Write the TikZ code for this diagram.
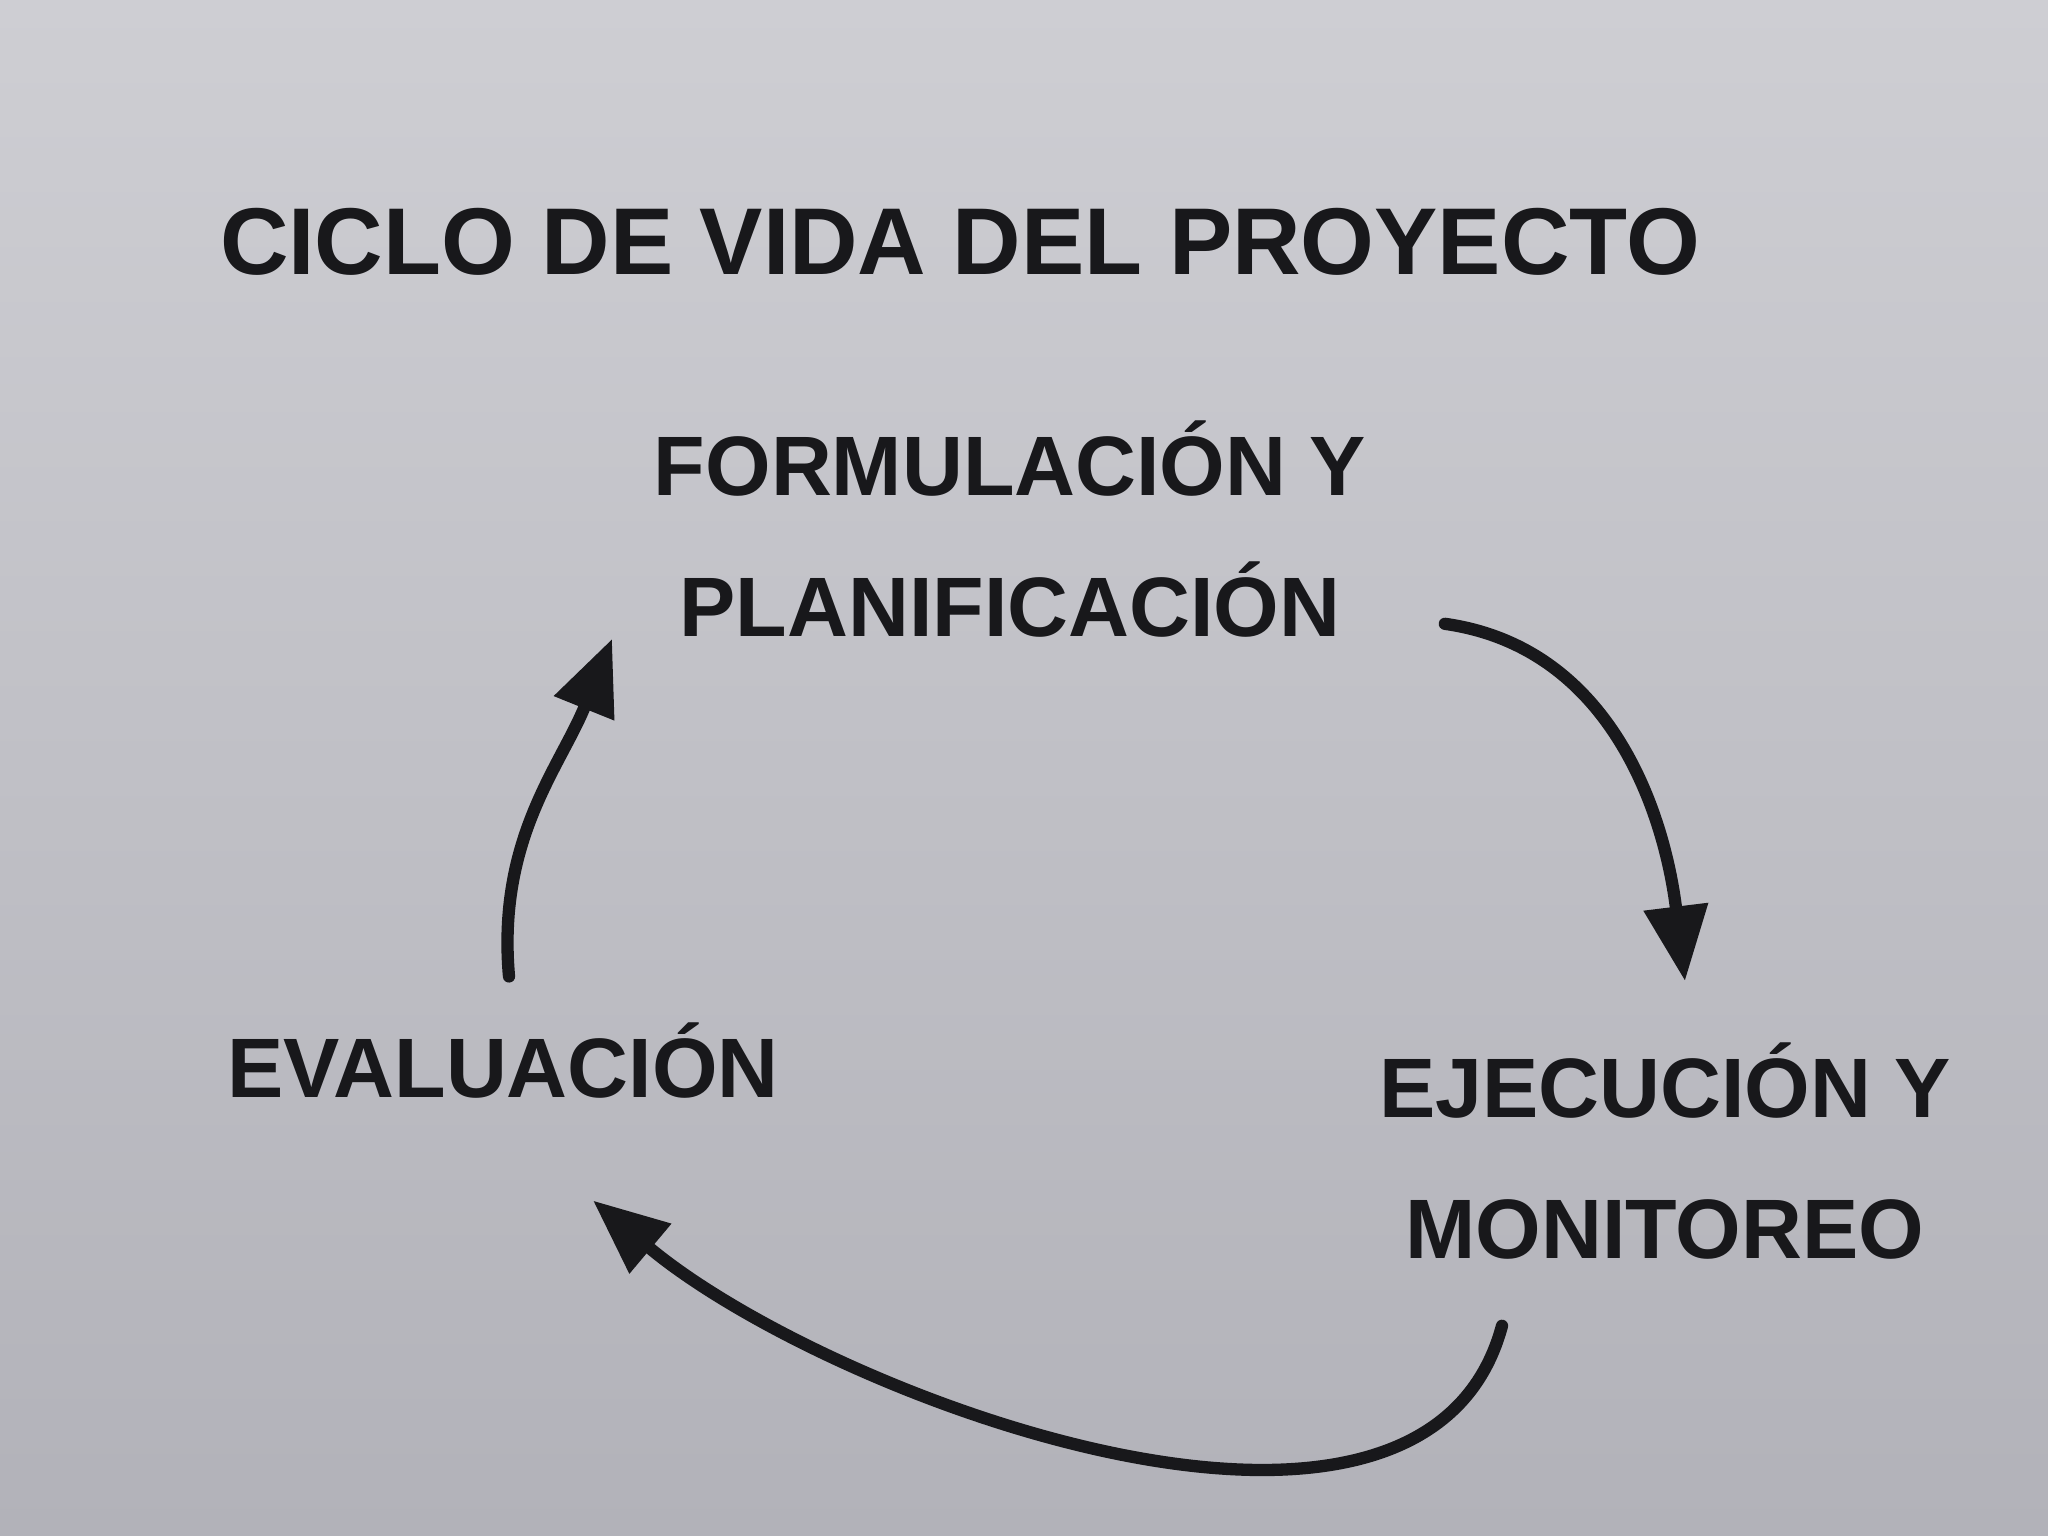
\documentclass[tikz,border=0pt]{standalone}
\usepackage{fontspec}
\setmainfont{Liberation Sans}
\usepackage{xcolor}
\usetikzlibrary{arrows.meta}

\definecolor{paperTop}{RGB}{206,206,211}
\definecolor{paperBot}{RGB}{178,178,185}
\definecolor{ink}{RGB}{24,24,27}

\begin{document}
\begin{tikzpicture}[scale=1.0,line width=1.00pt,
    phase/.style={align=center,inner sep=0pt,text=ink,font=\bfseries\fontsize{24}{40}\selectfont},
    flow/.style={draw=ink,line width=3.5pt,line cap=round,-{Triangle[length=0.75cm,width=0.62cm]}}]
      \shade [top color=paperTop,bottom color=paperBot] (0,0) rectangle (20.48,15.36);
      \useasboundingbox (0,0) rectangle (20.48,15.36);

      \node [text=ink,inner sep=0pt,font=\bfseries\fontsize{27}{32}\selectfont] (title) at (9.6, 12.94) {CICLO DE VIDA DEL PROYECTO};

      \node [phase] (form) at (10.1, 10.07) {FORMULACIÓN Y\\ PLANIFICACIÓN};
      \node [phase] (ejec) at (16.65, 3.85) {EJECUCIÓN Y\\ MONITOREO};
      \node [phase] (eval) at (5.03, 4.75) {EVALUACIÓN};

      \draw [flow] ([xshift=0.77cm,yshift=0.15cm]form.south east) to[out=-8,in=97] ([xshift=0.2cm,yshift=0.6cm]ejec.north);
      \draw [flow] ([xshift=-1.63cm,yshift=-0.65cm]ejec.south) to[out=-105,in=-40,looseness=0.85] ([xshift=0.9cm,yshift=-1.0cm]eval.south);
      \draw [flow] ([xshift=0.06cm,yshift=0.45cm]eval.north) to[out=95,in=-112] ([xshift=-0.4cm,yshift=0.0cm]form.south west);
    \end{tikzpicture}
\end{document}
